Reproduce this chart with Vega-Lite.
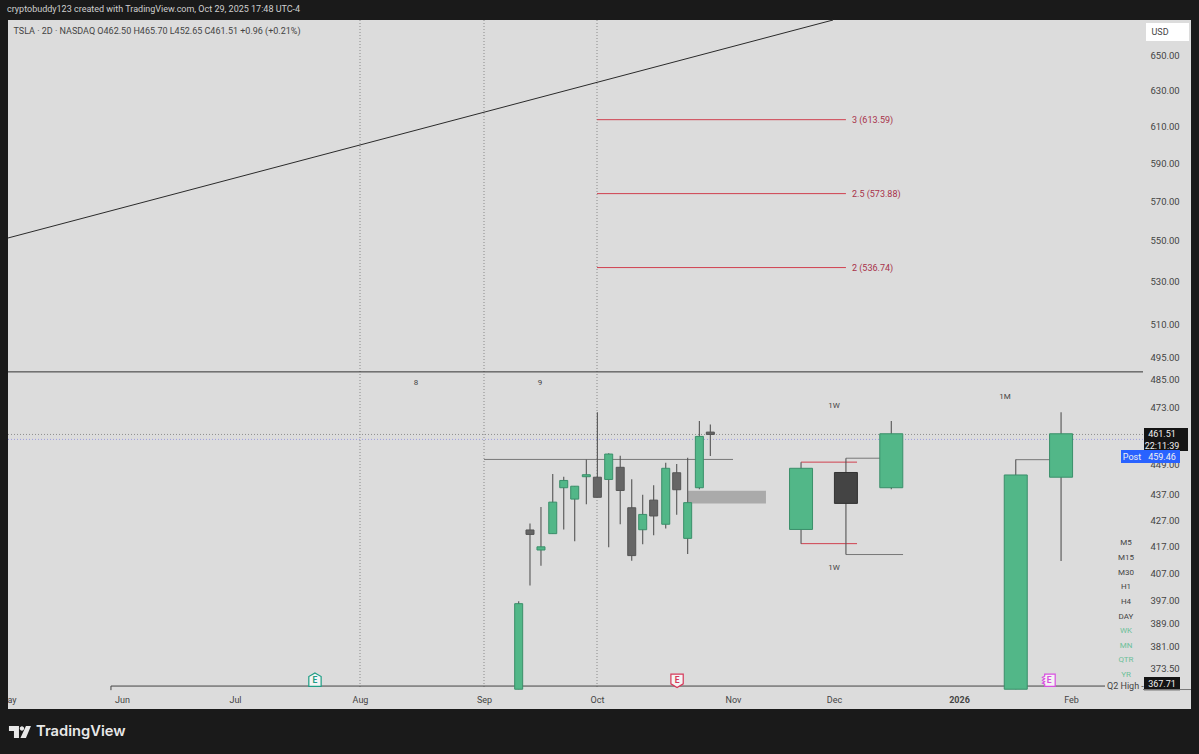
{
"$schema":"https://vega.github.io/schema/vega-lite/v6.json",
"autosize":"none","width":1183,"height":689,
"padding":{"left":8,"top":20,"right":8,"bottom":45},
"background":"#1a1a1a",
"title":{"text":"cryptobuddy123 created with TradingView.com, Oct 29, 2025 17:48 UTC-4","anchor":"start","frame":"group","offset":4,"dx":-1,"font":"Roboto","fontSize":9,"fontWeight":"normal","color":"#cfcfcf"},
"config":{"view":{"fill":"#dcdcdc","stroke":null},"font":"Roboto"},
"datasets":{
"candles":[
{"date":"2025-09-10T05:00:00Z","span":"2D","kind":"up","high":396.9,"low":366.5,"top":396.0,"bottom":366.5},
{"date":"2025-09-13T05:00:00Z","span":"2D","kind":"down","high":425.8,"low":402.6,"top":423.3,"bottom":421.6},
{"date":"2025-09-16T03:00:00Z","span":"2D","kind":"up","high":432.2,"low":409.8,"top":416.9,"bottom":415.7},
{"date":"2025-09-19T06:00:00Z","span":"2D","kind":"up","high":445.3,"low":421.9,"top":434.1,"bottom":421.9},
{"date":"2025-09-22T04:00:00Z","span":"2D","kind":"up","high":444.2,"low":423.5,"top":442.7,"bottom":439.8},
{"date":"2025-09-25T02:00:00Z","span":"2D","kind":"up","high":440.5,"low":419.0,"top":440.4,"bottom":435.3},
{"date":"2025-09-28T04:00:00Z","span":"2D","kind":"up","high":451.2,"low":433.3,"top":445.0,"bottom":444.2},
{"date":"2025-10-01T02:00:00Z","span":"2D","kind":"down","high":470.9,"low":436.0,"top":444.0,"bottom":436.0},
{"date":"2025-10-03T16:00:00Z","span":"2D","kind":"up","high":453.7,"low":416.7,"top":453.4,"bottom":443.1},
{"date":"2025-10-06T07:00:00Z","span":"2D","kind":"down","high":452.7,"low":425.5,"top":448.0,"bottom":438.7},
{"date":"2025-10-08T22:00:00Z","span":"2D","kind":"down","high":443.2,"low":411.7,"top":431.9,"bottom":413.6},
{"date":"2025-10-11T10:00:00Z","span":"2D","kind":"up","high":437.0,"low":417.9,"top":429.3,"bottom":423.4},
{"date":"2025-10-13T22:00:00Z","span":"2D","kind":"down","high":440.8,"low":421.3,"top":434.9,"bottom":428.7},
{"date":"2025-10-16T16:00:00Z","span":"2D","kind":"up","high":449.8,"low":423.9,"top":447.6,"bottom":425.5},
{"date":"2025-10-19T04:00:00Z","span":"2D","kind":"down","high":449.3,"low":429.2,"top":445.8,"bottom":439.0},
{"date":"2025-10-21T16:00:00Z","span":"2D","kind":"up","high":451.9,"low":414.2,"top":433.9,"bottom":420.1},
{"date":"2025-10-24T08:00:00Z","span":"2D","kind":"up","high":467.2,"low":439.2,"top":460.7,"bottom":439.8},
{"date":"2025-10-26T20:00:00Z","span":"2D","kind":"down","high":465.7,"low":452.65,"top":462.5,"bottom":461.51},
{"date":"2025-11-21T05:00:00Z","span":"drawn","kind":"up","high":450.1,"low":418.1,"top":447.6,"bottom":423.5},
{"date":"2025-12-03T23:00:00Z","span":"drawn","kind":"weekly down","high":451.7,"low":414.0,"top":445.9,"bottom":433.6},
{"date":"2025-12-15T05:00:00Z","span":"drawn","kind":"up","high":467.2,"low":439.2,"top":461.8,"bottom":439.8},
{"date":"2026-01-16T17:00:00Z","span":"drawn","kind":"up","high":451.2,"low":366.5,"top":444.9,"bottom":366.5},
{"date":"2026-01-29T06:00:00Z","span":"drawn","kind":"up","high":470.9,"low":411.6,"top":461.8,"bottom":444.0}
],
"levels":[
{"date":"2025-10-01T00:00:00Z","end":"2025-12-03T23:00:00Z","price":613.59,"kind":"fib"},
{"date":"2025-10-01T00:00:00Z","end":"2025-12-03T23:00:00Z","price":573.88,"kind":"fib"},
{"date":"2025-10-01T00:00:00Z","end":"2025-12-03T23:00:00Z","price":536.74,"kind":"fib"},
{"date":"2025-05-01T00:00:00Z","end":"2026-02-19T00:00:00Z","price":488.4,"kind":"pivot"},
{"date":"2025-05-29T00:00:00Z","end":"2026-02-09T12:00:00Z","price":367.55,"kind":"q2"},
{"date":"2026-02-19T00:00:00Z","end":"2026-03-03T00:00:00Z","price":366.4,"kind":"structure"},
{"date":"2025-09-01T00:00:00Z","end":"2025-11-01T00:00:00Z","price":451.2,"kind":"structure"},
{"date":"2025-11-21T05:00:00Z","end":"2025-12-06T17:00:00Z","price":450.1,"kind":"range"},
{"date":"2025-11-21T05:00:00Z","end":"2025-12-06T17:00:00Z","price":418.1,"kind":"range"},
{"date":"2025-12-03T23:00:00Z","end":"2025-12-15T05:00:00Z","price":451.7,"kind":"structure"},
{"date":"2025-12-03T23:00:00Z","end":"2025-12-18T03:00:00Z","price":414.0,"kind":"structure"},
{"date":"2026-01-16T17:00:00Z","end":"2026-01-26T05:00:00Z","price":451.1,"kind":"structure"}
],
"dotted":[
{"date":"2025-05-01T00:00:00Z","end":"2026-02-19T00:00:00Z","price":461.51,"kind":"last"},
{"date":"2025-05-01T00:00:00Z","end":"2026-02-19T00:00:00Z","price":459.46,"kind":"post"}
],
"sessions":[
{"date":"2025-08-01T00:00:00Z","price":671.5,"low":367.0},
{"date":"2025-09-01T00:00:00Z","price":671.5,"low":367.0},
{"date":"2025-10-01T00:00:00Z","price":671.5,"low":367.0}
],
"q2tick":[{"date":"2025-05-29T00:00:00Z","price":367.55,"low":366.2}],
"trend":[
{"date":"2025-05-01T00:00:00Z","price":551.3},
{"date":"2025-11-30T17:00:00Z","price":671.5}
],
"boxes":[
{"date":"2025-10-21T18:00:00Z","end":"2025-11-10T19:00:00Z","price":438.6,"low":433.6,"kind":"zone"},
{"date":"2026-02-19T06:00:00Z","end":"2026-03-02T06:00:00Z","price":464.2,"low":454.7,"kind":"price box"},
{"date":"2026-02-13T12:00:00Z","end":"2026-02-28T06:00:00Z","price":455.1,"low":449.7,"kind":"post box"},
{"date":"2026-02-19T06:00:00Z","end":"2026-02-28T06:00:00Z","price":370.6,"low":366.2,"kind":"price box"},
{"date":"2026-02-19T18:00:00Z","end":"2026-03-02T12:00:00Z","price":669.7,"low":658.9,"kind":"usd box"}
],
"leftLabels":[
{"date":"2025-12-05T11:00:00Z","price":613.59,"text":"3 (613.59)","kind":"fib label"},
{"date":"2025-12-05T11:00:00Z","price":573.88,"text":"2.5 (573.88)","kind":"fib label"},
{"date":"2025-12-05T11:00:00Z","price":536.74,"text":"2 (536.74)","kind":"fib label"},
{"date":"2025-05-02T12:00:00Z","price":664.9,"text":"TSLA · 2D · NASDAQ  O462.50  H465.70  L452.65  C461.51  +0.96 (+0.21%)","kind":"label"},
{"date":"2026-02-10T00:00:00Z","price":367.7,"text":"Q2 High -","kind":"label"}
],
"smallLabels":[
{"date":"2025-08-15T00:00:00Z","price":483.5,"text":"8","kind":"label"},
{"date":"2025-09-15T21:00:00Z","price":483.5,"text":"9","kind":"label"},
{"date":"2025-12-01T00:00:00Z","price":473.5,"text":"1W","kind":"label"},
{"date":"2025-12-01T00:00:00Z","price":409.0,"text":"1W","kind":"label"},
{"date":"2026-01-13T17:00:00Z","price":477.4,"text":"1M","kind":"label"},
{"date":"2026-02-14T18:00:00Z","price":418.4,"text":"M5","kind":"label"},
{"date":"2026-02-14T18:00:00Z","price":412.7,"text":"M15","kind":"label"},
{"date":"2026-02-14T18:00:00Z","price":407.1,"text":"M30","kind":"label"},
{"date":"2026-02-14T18:00:00Z","price":402.0,"text":"H1","kind":"label"},
{"date":"2026-02-14T18:00:00Z","price":396.6,"text":"H4","kind":"label"},
{"date":"2026-02-14T18:00:00Z","price":391.4,"text":"DAY","kind":"label"},
{"date":"2026-02-14T18:00:00Z","price":386.3,"text":"WK","kind":"tf on"},
{"date":"2026-02-14T18:00:00Z","price":381.1,"text":"MN","kind":"tf on"},
{"date":"2026-02-14T18:00:00Z","price":376.2,"text":"QTR","kind":"tf on"},
{"date":"2026-02-14T18:00:00Z","price":371.2,"text":"YR","kind":"tf on"}
],
"boxLabels":[
{"date":"2026-02-23T18:00:00Z","price":461.8,"text":"461.51","kind":"on dark"},
{"date":"2026-02-23T18:00:00Z","price":456.9,"text":"22:11:39","kind":"on dark"},
{"date":"2026-02-16T06:00:00Z","price":452.4,"text":"Post","kind":"on dark"},
{"date":"2026-02-23T18:00:00Z","price":452.4,"text":"459.46","kind":"on dark"},
{"date":"2026-02-23T18:00:00Z","price":368.3,"text":"367.71","kind":"on dark"},
{"date":"2026-02-23T06:00:00Z","price":664.3,"text":"USD","kind":"label"}
],
"may":[{"date":"2025-05-01T00:00:00Z","price":362.9,"text":"May","kind":"label"}],
"brand":[{"date":"2025-05-08T15:00:00Z","price":352.6,"text":"TradingView","kind":"brand"}],
"logo":[{"date":"2025-05-04T06:00:00Z","price":352.6}],
"earnings":[
{"date":"2025-07-20T20:00:00Z","price":369.5,"kind":"earn past","text":"E"},
{"date":"2025-10-19T06:00:00Z","price":369.5,"kind":"earn recent","text":"E"},
{"date":"2026-01-25T22:00:00Z","price":369.5,"kind":"earn next","text":"E"}
]
},
"encoding":{
"x":{"field":"date","type":"temporal","title":null,
"scale":{"type":"utc","nice":false,"padding":0,
"domain":{"expr":"[1746057600000,1748736000000,1751328000000,1754006400000,1756684800000,1759276800000,1761955200000,1764547200000,1767225600000,1769904000000,1772496000000]"},
"range":[0,114,227,352,476,589,725,826,951,1063,1183]},
"axis":{"orient":"bottom","grid":false,"domain":false,"ticks":false,"labelPadding":-14,"labelFont":"Roboto","labelFontSize":9,"labelColor":"#444444","labelBound":false,"labelFlush":false,"labelOverlap":false,
"values":[1748736000000,1751328000000,1754006400000,1756684800000,1759276800000,1761955200000,1764547200000,1767225600000,1769904000000],
"labelExpr":"utcmonth(datum.value)==0 ? '2026' : utcFormat(datum.value,'%b')",
"labelFontWeight":{"condition":{"test":"utcmonth(datum.value)==0","value":"bold"},"value":"normal"}}},
"y":{"field":"price","type":"quantitative","title":null,
"scale":{"type":"log","nice":false,"zero":false,"domain":[360,671.5]},
"axis":{"orient":"right","grid":false,"domain":false,"ticks":false,"labelPadding":-41,"labelAlign":"left","labelFont":"Roboto","labelFontSize":9.5,"labelColor":"#444444","labelOverlap":false,"labelBound":false,"format":".2f",
"values":[650,630,610,590,570,550,530,510,495,485,473,449,437,427,417,407,397,389,381,373.5]}}
},
"layer":[
{"data":{"name":"sessions"},"mark":{"type":"rule","color":"#8a8a8a","strokeDash":[1,2],"strokeWidth":1},"encoding":{"y2":{"field":"low"}}},
{"data":{"name":"dotted","format":{"parse":{"end":"date"}}},"mark":{"type":"rule","strokeDash":[1,2],"strokeWidth":1},
 "encoding":{"x2":{"field":"end"},"color":{"field":"kind","type":"nominal","legend":null,
 "scale":{"domain":["up","down","weekly down","fib","range","structure","pivot","q2","last","post","zone","price box","post box","usd box","label","fib label","tf on","on dark","brand","earn past","earn recent","earn next"],
 "range":["#52b788","#666666","#444444","#d0404f","#d0404f","#777777","#333333","#444444","#8f8f8f","#9a9ae0","#aaaaaa","#141414","#2962ff","#ffffff","#444444","#a8324a","#6cc09a","#f0f0f0","#e8e8e8","#1f9e85","#d6395a","#d84fe0"]}}}},
{"data":{"name":"boxes","format":{"parse":{"end":"date"}}},"mark":{"type":"rect"},
 "encoding":{"x2":{"field":"end"},"y2":{"field":"low"},"color":{"field":"kind","type":"nominal","legend":null}}},
{"data":{"name":"trend"},"mark":{"type":"line","color":"#2a2a2a","strokeWidth":1}},
{"data":{"name":"levels","format":{"parse":{"end":"date"}}},"mark":{"type":"rule","strokeWidth":1},
 "encoding":{"x2":{"field":"end"},"color":{"field":"kind","type":"nominal","legend":null}}},
{"data":{"name":"q2tick"},"mark":{"type":"rule","color":"#444444","strokeWidth":1},"encoding":{"y2":{"field":"low"}}},
{"data":{"name":"candles"},"mark":{"type":"rule","color":"#555555","strokeWidth":1.1},
 "encoding":{"y":{"field":"high","type":"quantitative","title":null,"scale":{"type":"log"},
 "axis":{"orient":"right","grid":false,"domain":false,"ticks":false,"labelPadding":-41,"labelAlign":"left","labelFont":"Roboto","labelFontSize":9.5,"labelColor":"#444444","labelOverlap":false,"labelBound":false,"format":".2f","values":[650,630,610,590,570,550,530,510,495,485,473,449,437,427,417,407,397,389,381,373.5]}},"y2":{"field":"low"}}},
{"data":{"name":"candles"},"transform":[{"filter":"datum.span=='2D'"}],"mark":{"type":"bar","size":8,"strokeWidth":1},
 "encoding":{"y":{"field":"top","type":"quantitative","title":null,"scale":{"type":"log"},
 "axis":{"orient":"right","grid":false,"domain":false,"ticks":false,"labelPadding":-41,"labelAlign":"left","labelFont":"Roboto","labelFontSize":9.5,"labelColor":"#444444","labelOverlap":false,"labelBound":false,"format":".2f","values":[650,630,610,590,570,550,530,510,495,485,473,449,437,427,417,407,397,389,381,373.5]}},"y2":{"field":"bottom"},
 "color":{"field":"kind","type":"nominal","legend":null},"stroke":{"field":"kind","type":"nominal","legend":null,
 "scale":{"domain":["up","down","weekly down","earn past","earn recent","earn next"],"range":["#3a8f6a","#555555","#333333","#1f9e85","#d6395a","#d84fe0"]}}}},
{"data":{"name":"candles"},"transform":[{"filter":"datum.span=='drawn'"}],"mark":{"type":"bar","size":23,"strokeWidth":1},
 "encoding":{"y":{"field":"top","type":"quantitative","title":null,"scale":{"type":"log"},
 "axis":{"orient":"right","grid":false,"domain":false,"ticks":false,"labelPadding":-41,"labelAlign":"left","labelFont":"Roboto","labelFontSize":9.5,"labelColor":"#444444","labelOverlap":false,"labelBound":false,"format":".2f","values":[650,630,610,590,570,550,530,510,495,485,473,449,437,427,417,407,397,389,381,373.5]}},"y2":{"field":"bottom"},
 "color":{"field":"kind","type":"nominal","legend":null},"stroke":{"field":"kind","type":"nominal","legend":null}}},
{"data":{"name":"earnings"},"mark":{"type":"point","filled":true,"fill":"#f4f4f4","size":210,"strokeWidth":1.2,"opacity":1},
 "encoding":{"stroke":{"field":"kind","type":"nominal","legend":null},
 "shape":{"field":"kind","type":"nominal","legend":null,"scale":{"domain":["earn past","earn recent","earn next"],"range":["M0 -1L.85 -.5L.85 .85L-.85 .85L-.85 -.5Z","M-.85 -.85L.85 -.85L.85 .5L0 1L-.85 .5Z","M-.6 -.85L.85 -.85L.85 .85L-.6 .85L-.6 .55L-.9 .4L-.6 .2L-.9 0L-.6 -.2L-.9 -.4L-.6 -.55Z"]}}}},
{"data":{"name":"earnings"},"mark":{"type":"text","font":"Roboto","fontSize":8.5,"fontWeight":"bold","baseline":"middle"},
 "encoding":{"text":{"field":"text"},"color":{"field":"kind","type":"nominal","legend":null}}},
{"data":{"name":"leftLabels"},"mark":{"type":"text","align":"left","baseline":"middle","font":"Roboto","fontSize":9},
 "encoding":{"text":{"field":"text"},"color":{"field":"kind","type":"nominal","legend":null}}},
{"data":{"name":"smallLabels"},"mark":{"type":"text","align":"center","baseline":"middle","font":"Roboto","fontSize":8},
 "encoding":{"text":{"field":"text"},"color":{"field":"kind","type":"nominal","legend":null}}},
{"data":{"name":"boxLabels"},"mark":{"type":"text","align":"center","baseline":"middle","font":"Roboto","fontSize":9},
 "encoding":{"text":{"field":"text"},"color":{"field":"kind","type":"nominal","legend":null}}},
{"data":{"name":"may"},"mark":{"type":"text","align":"center","baseline":"middle","font":"Roboto","fontSize":9,"clip":true},
 "encoding":{"text":{"field":"text"},"color":{"field":"kind","type":"nominal","legend":null}}},
{"data":{"name":"brand"},"mark":{"type":"text","align":"left","baseline":"middle","font":"Inter","fontSize":14.7,"fontWeight":600},
 "encoding":{"text":{"field":"text"},"color":{"field":"kind","type":"nominal","legend":null}}},
{"data":{"name":"logo"},"mark":{"type":"point","filled":true,"fill":"#e8e8e8","opacity":1,"size":484,"shape":"M-1 -.545L-.09 -.545L-.09 .545L-.545 .545L-.545 -.09L-1 -.09ZM-.02 -.32a.2 .2 0 1 0 .4 0a.2 .2 0 1 0 -.4 0ZM.545 -.545L1 -.545L.545 .545L.045 .545Z"}}
],
"resolve":{"scale":{"color":"shared","stroke":"shared"}}
}
